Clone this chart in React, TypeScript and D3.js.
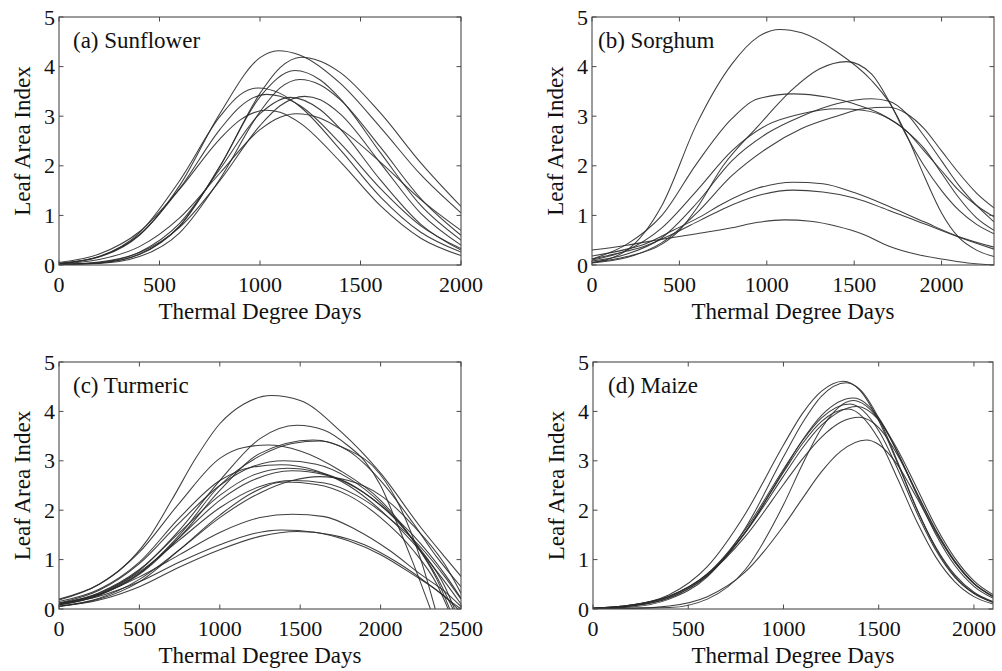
import React from "react";
import * as d3 from "d3";

type Pt = [number, number];

// ---------- tick values ----------
const yTickValues = [0, 1, 2, 3, 4, 5];
const xTicksSunflower = [0, 500, 1000, 1500, 2000];
const xTicksSorghum = [0, 500, 1000, 1500, 2000];
const xTicksTurmeric = [0, 500, 1000, 1500, 2000, 2500];
const xTicksMaize = [0, 500, 1000, 1500, 2000];

// ---------- (a) Sunflower ----------
const sunflower1: Pt[] = [[0,0.03],[200,0.16],[400,0.60],[600,1.60],[800,3.05],[1000,4.18],[1090,4.32],[1200,4.23],[1400,3.66],[1600,2.77],[1800,1.82],[2000,1.05]];
const sunflower2: Pt[] = [[0,0.01],[200,0.04],[400,0.22],[600,0.78],[800,1.98],[1000,3.46],[1100,3.98],[1204,4.19],[1300,4.11],[1400,3.88],[1600,3.06],[1800,2.06],[2000,1.18]];
const sunflower3: Pt[] = [[0,0.01],[200,0.04],[400,0.21],[600,0.79],[800,1.99],[1000,3.39],[1173,3.92],[1300,3.73],[1400,3.35],[1600,2.26],[1800,1.20],[2000,0.50]];
const sunflower4: Pt[] = [[0,0.01],[200,0.03],[400,0.17],[600,0.65],[800,1.73],[1000,3.09],[1100,3.57],[1198,3.74],[1300,3.63],[1400,3.33],[1600,2.37],[1800,1.34],[2000,0.60]];
const sunflower5: Pt[] = [[0,0.03],[200,0.17],[400,0.65],[600,1.70],[800,2.99],[900,3.43],[991,3.57],[1100,3.46],[1200,3.19],[1400,2.32],[1600,1.37],[1800,0.66],[2000,0.26]];
const sunflower6: Pt[] = [[0,0.03],[200,0.17],[400,0.61],[600,1.54],[800,2.73],[900,3.19],[1032,3.44],[1100,3.40],[1200,3.21],[1400,2.45],[1600,1.54],[1800,0.79],[2000,0.33]];
const sunflower7: Pt[] = [[0,0.01],[200,0.06],[400,0.25],[600,0.76],[800,1.70],[1000,2.81],[1100,3.21],[1223,3.40],[1300,3.33],[1400,3.04],[1600,2.05],[1800,1.04],[2000,0.40]];
const sunflower8: Pt[] = [[0,0.01],[200,0.05],[400,0.26],[600,0.84],[800,1.93],[1000,3.05],[1150,3.38],[1300,3.13],[1400,2.74],[1600,1.71],[1800,0.82],[2000,0.30]];
const sunflower9: Pt[] = [[0,0.05],[200,0.22],[400,0.67],[600,1.53],[800,2.54],[900,2.92],[1030,3.12],[1100,3.08],[1200,2.86],[1400,2.08],[1600,1.19],[1800,0.54],[2000,0.19]];
const sunflower10: Pt[] = [[0,0.02],[200,0.11],[400,0.37],[600,0.95],[800,1.85],[1000,2.73],[1100,2.98],[1180,3.05],[1300,2.96],[1400,2.74],[1600,2.07],[1800,1.32],[2000,0.70]];

// ---------- (b) Sorghum ----------
const sorghum1: Pt[] = [[0,0.05],[200,0.3],[400,1.2],[600,2.85],[800,4.05],[950,4.6],[1075,4.75],[1200,4.68],[1400,4.3],[1600,3.72],[1700,3.28],[1800,2.62],[1900,1.8],[2000,1.05],[2100,0.55],[2200,0.3],[2300,0.17]];
const sorghum2: Pt[] = [[0,0.05],[200,0.17],[400,0.42],[500,0.7],[600,1.15],[750,2.0],[950,2.8],[1150,3.55],[1300,3.95],[1457,4.1],[1600,3.85],[1700,3.3],[1800,2.6],[1900,2.0],[2000,1.5],[2100,1.1],[2200,0.82],[2300,0.63]];
const sorghum3: Pt[] = [[0,0.12],[200,0.42],[400,1.0],[600,2.05],[800,2.95],[950,3.35],[1150,3.45],[1350,3.38],[1500,3.25],[1650,3.05],[1800,2.7],[1900,2.35],[2000,1.85],[2100,1.35],[2200,0.95],[2300,0.7]];
const sorghum4: Pt[] = [[0,0.08],[200,0.22],[400,0.55],[600,1.25],[800,2.1],[1000,2.65],[1200,3.0],[1400,3.25],[1600,3.35],[1700,3.3],[1800,3.05],[1900,2.6],[2000,2.1],[2100,1.6],[2200,1.2],[2300,0.87]];
const sorghum5: Pt[] = [[0,0.04],[200,0.15],[400,0.45],[600,1.05],[800,1.8],[1000,2.35],[1200,2.75],[1400,3.0],[1550,3.15],[1700,3.18],[1800,3.05],[1900,2.75],[2000,2.3],[2100,1.85],[2200,1.45],[2300,1.15]];
const sorghum6: Pt[] = [[0,0.1],[200,0.3],[400,0.75],[600,1.5],[800,2.3],[1000,2.82],[1200,3.05],[1400,3.15],[1550,3.12],[1700,2.95],[1800,2.7],[1900,2.3],[2000,1.9],[2100,1.5],[2200,1.2],[2300,0.97]];
const sorghum7: Pt[] = [[0,0.18],[200,0.32],[300,0.42],[465,0.7],[618,0.97],[750,1.24],[950,1.55],[1150,1.67],[1320,1.64],[1500,1.46],[1700,1.18],[1900,0.87],[2100,0.57],[2300,0.36]];
const sorghum8: Pt[] = [[0,0.12],[200,0.28],[300,0.38],[465,0.63],[618,0.9],[750,1.13],[950,1.4],[1150,1.51],[1320,1.47],[1500,1.35],[1700,1.1],[1900,0.83],[2100,0.56],[2300,0.32]];
const sorghum9: Pt[] = [[0,0.3],[200,0.4],[400,0.52],[600,0.63],[800,0.75],[950,0.86],[1100,0.91],[1250,0.88],[1400,0.78],[1550,0.62],[1700,0.38],[1850,0.22],[2000,0.12],[2150,0.04],[2300,0.0]];

// ---------- (c) Turmeric ----------
const turmeric1: Pt[] = [[0,0.18],[250,0.5],[400,0.85],[550,1.4],[700,2.2],[850,3.05],[1000,3.75],[1150,4.15],[1320,4.32],[1500,4.22],[1750,3.6],[2000,2.75],[2250,1.65],[2400,1.05],[2500,0.66]];
const turmeric2: Pt[] = [[0,0.1],[250,0.32],[500,0.78],[750,1.6],[1000,2.6],[1250,3.45],[1480,3.72],[1650,3.62],[1800,3.3],[1900,3.0],[2000,2.5],[2100,1.75],[2200,0.95],[2310,0]];
const turmeric3: Pt[] = [[0,0.08],[250,0.28],[500,0.7],[750,1.45],[1000,2.4],[1250,3.15],[1580,3.42],[1800,3.22],[1950,2.9],[2100,2.2],[2250,1.0],[2340,0]];
const turmeric4: Pt[] = [[0,0.1],[250,0.3],[500,0.72],[750,1.5],[1000,2.5],[1250,3.1],[1450,3.35],[1620,3.4],[1800,3.2],[2000,2.6],[2200,1.75],[2350,1.05],[2500,0.45]];
const turmeric5: Pt[] = [[0,0.2],[250,0.5],[500,1.15],[750,2.15],[1000,3.05],[1150,3.27],[1300,3.32],[1500,3.2],[1750,2.8],[2000,2.2],[2200,1.4],[2350,0.6],[2430,0]];
const turmeric6: Pt[] = [[0,0.12],[250,0.38],[500,0.92],[750,1.75],[1000,2.5],[1200,2.88],[1400,3.0],[1600,2.93],[1800,2.65],[2000,2.15],[2200,1.4],[2350,0.65],[2450,0]];
const turmeric7: Pt[] = [[0,0.15],[250,0.4],[500,0.95],[750,1.85],[1000,2.6],[1200,2.87],[1380,2.92],[1600,2.8],[1800,2.5],[2000,2.0],[2200,1.35],[2400,0.55],[2500,0.1]];
const turmeric8: Pt[] = [[0,0.1],[250,0.33],[500,0.8],[750,1.55],[1000,2.3],[1200,2.7],[1420,2.85],[1600,2.78],[1800,2.55],[2000,2.1],[2200,1.5],[2400,0.7],[2500,0.22]];
const turmeric9: Pt[] = [[0,0.08],[250,0.28],[500,0.72],[750,1.45],[1000,2.2],[1200,2.6],[1450,2.8],[1650,2.72],[1850,2.45],[2050,1.95],[2250,1.2],[2400,0.45],[2460,0]];
const turmeric10: Pt[] = [[0,0.06],[250,0.22],[500,0.6],[750,1.2],[1000,1.85],[1250,2.35],[1450,2.6],[1620,2.68],[1800,2.6],[2000,2.3],[2200,1.7],[2400,0.9],[2500,0.32]];
const turmeric11: Pt[] = [[0,0.1],[250,0.3],[500,0.75],[750,1.4],[1000,2.05],[1250,2.48],[1450,2.6],[1650,2.55],[1850,2.3],[2050,1.85],[2250,1.25],[2400,0.65],[2500,0.2]];
const turmeric12: Pt[] = [[0,0.05],[250,0.2],[500,0.55],[750,1.2],[1000,1.9],[1200,2.35],[1400,2.57],[1600,2.52],[1800,2.3],[2000,1.85],[2200,1.2],[2350,0.5],[2420,0]];
const turmeric13: Pt[] = [[0,0.12],[250,0.3],[500,0.65],[750,1.1],[1000,1.55],[1250,1.85],[1450,1.92],[1650,1.87],[1850,1.6],[2050,1.2],[2250,0.7],[2400,0.35],[2500,0.05]];
const turmeric14: Pt[] = [[0,0.1],[250,0.26],[500,0.55],[750,0.95],[1000,1.3],[1200,1.52],[1380,1.6],[1600,1.55],[1800,1.38],[2000,1.1],[2200,0.7],[2400,0.25],[2480,0]];
const turmeric15: Pt[] = [[0,0.05],[250,0.18],[500,0.45],[750,0.85],[1000,1.2],[1250,1.47],[1480,1.57],[1700,1.5],[1900,1.3],[2100,0.95],[2300,0.5],[2450,0.12],[2500,0]];

// ---------- (d) Maize ----------
const maize1: Pt[] = [[0,0.02],[200,0.08],[400,0.29],[600,0.86],[800,1.93],[1000,3.32],[1100,3.96],[1200,4.41],[1315,4.61],[1400,4.43],[1500,3.81],[1600,2.94],[1700,2.02],[1800,1.25],[1900,0.69],[2000,0.34],[2100,0.15]];
const maize2: Pt[] = [[0,0.01],[200,0.04],[400,0.20],[600,0.65],[800,1.64],[1000,3.08],[1100,3.77],[1200,4.31],[1330,4.58],[1400,4.45],[1500,3.86],[1600,2.97],[1700,2.03],[1800,1.23],[1900,0.66],[2000,0.32],[2100,0.14]];
const maize3: Pt[] = [[0,0.01],[200,0.06],[400,0.23],[600,0.68],[800,1.56],[1000,2.80],[1100,3.42],[1200,3.92],[1367,4.27],[1500,3.87],[1600,3.16],[1700,2.31],[1800,1.51],[1900,0.88],[2000,0.46],[2100,0.22]];
const maize4: Pt[] = [[0,0.01],[200,0.02],[400,0.03],[600,0.20],[800,0.80],[1000,2.11],[1100,2.93],[1200,3.66],[1365,4.22],[1500,3.84],[1600,3.16],[1700,2.35],[1800,1.58],[1900,0.95],[2000,0.52],[2100,0.25]];
const maize5: Pt[] = [[0,0.01],[200,0.07],[400,0.25],[600,0.71],[800,1.61],[1000,2.83],[1100,3.41],[1200,3.87],[1350,4.15],[1500,3.61],[1600,2.83],[1700,1.95],[1800,1.19],[1900,0.64],[2000,0.31],[2100,0.13]];
const maize6: Pt[] = [[0,0.02],[200,0.08],[400,0.26],[600,0.71],[800,1.55],[1000,2.69],[1100,3.26],[1200,3.72],[1385,4.10],[1500,3.83],[1600,3.22],[1700,2.45],[1800,1.67],[1900,1.03],[2000,0.57],[2100,0.29]];
const maize7: Pt[] = [[0,0.01],[200,0.06],[400,0.22],[600,0.67],[800,1.55],[1000,2.77],[1100,3.35],[1200,3.80],[1340,4.05],[1500,3.44],[1600,2.63],[1700,1.77],[1800,1.05],[1900,0.55],[2000,0.25],[2100,0.10]];
const maize8: Pt[] = [[0,0.02],[200,0.08],[400,0.26],[600,0.69],[800,1.47],[1000,2.52],[1100,3.04],[1200,3.48],[1300,3.78],[1400,3.88],[1500,3.67],[1600,3.11],[1700,2.35],[1800,1.60],[1900,0.97],[2000,0.52],[2100,0.26]];
const maize9: Pt[] = [[0,0.01],[200,0.01],[400,0.06],[600,0.25],[800,0.75],[1000,1.68],[1100,2.24],[1200,2.78],[1300,3.19],[1435,3.42],[1500,3.33],[1600,2.91],[1700,2.25],[1800,1.55],[1900,0.95],[2000,0.51],[2100,0.25]];

const sunflowerCurves = [sunflower1, sunflower2, sunflower3, sunflower4, sunflower5, sunflower6, sunflower7, sunflower8, sunflower9, sunflower10];
const sorghumCurves = [sorghum1, sorghum2, sorghum3, sorghum4, sorghum5, sorghum6, sorghum7, sorghum8, sorghum9];
const turmericCurves = [turmeric1, turmeric2, turmeric3, turmeric4, turmeric5, turmeric6, turmeric7, turmeric8, turmeric9, turmeric10, turmeric11, turmeric12, turmeric13, turmeric14, turmeric15];
const maizeCurves = [maize1, maize2, maize3, maize4, maize5, maize6, maize7, maize8, maize9];

const panelTitles = ["(a) Sunflower", "(b) Sorghum", "(c) Turmeric", "(d) Maize"];
const xMaxes = [2000, 2300, 2500, 2100];
const xLabel = "Thermal Degree Days";
const yLabel = "Leaf Area Index";

const FONT = "'Liberation Serif', 'Times New Roman', Times, serif";

type Layout = { left: number; right: number; top: number; bottom: number; titleDx: number };

const layouts: Layout[] = [
  { left: 59, right: 461, top: 17, bottom: 265, titleDx: 14 },
  { left: 592, right: 994, top: 17, bottom: 265, titleDx: 6 },
  { left: 59, right: 461, top: 362, bottom: 609, titleDx: 14 },
  { left: 593, right: 993, top: 362, bottom: 609, titleDx: 15 },
];

function Panel(props: { idx: number; curves: Pt[][]; xTicks: number[] }) {
  const { idx, curves, xTicks } = props;
  const L = layouts[idx];
  const x = d3.scaleLinear().domain([0, xMaxes[idx]]).range([L.left, L.right]);
  const y = d3.scaleLinear().domain([0, 5]).range([L.bottom, L.top]);
  const line = d3
    .line<Pt>()
    .x((d) => x(d[0]))
    .y((d) => y(d[1]))
    .curve(d3.curveMonotoneX);
  const clipId = `clip-panel-${idx}`;
  const tick = 4.5;
  const axisColor = "#4a4a4a";
  return (
    <g>
      <defs>
        <clipPath id={clipId}>
          <rect x={L.left} y={L.top} width={L.right - L.left} height={L.bottom - L.top} />
        </clipPath>
      </defs>
      <g clipPath={`url(#${clipId})`}>
        {curves.map((c, i) => (
          <path key={i} d={line(c) || ""} fill="none" stroke="#2a2a2a" strokeWidth={1.05} strokeOpacity={0.9} />
        ))}
      </g>
      <rect
        x={L.left}
        y={L.top}
        width={L.right - L.left}
        height={L.bottom - L.top}
        fill="none"
        stroke={axisColor}
        strokeWidth={1.1}
      />
      {xTicks.map((t) => (
        <g key={`xt${t}`}>
          <line x1={x(t)} x2={x(t)} y1={L.bottom} y2={L.bottom - tick} stroke={axisColor} />
          <line x1={x(t)} x2={x(t)} y1={L.top} y2={L.top + tick} stroke={axisColor} />
          <text x={x(t)} y={L.bottom + 27} textAnchor="middle" fontFamily={FONT} fontSize={22} fill="#111">
            {t}
          </text>
        </g>
      ))}
      {yTickValues.map((t) => (
        <g key={`yt${t}`}>
          <line x1={L.left} x2={L.left + tick} y1={y(t)} y2={y(t)} stroke={axisColor} />
          <line x1={L.right} x2={L.right - tick} y1={y(t)} y2={y(t)} stroke={axisColor} />
          <text x={L.left - 4} y={y(t) + 7.5} textAnchor="end" fontFamily={FONT} fontSize={22} fill="#111">
            {t}
          </text>
        </g>
      ))}
      <text
        x={(L.left + L.right) / 2}
        y={L.bottom + 53.5}
        textAnchor="middle"
        fontFamily={FONT}
        fontSize={23}
        fill="#111"
      >
        {xLabel}
      </text>
      <text
        transform={`translate(${L.left - 29},${(L.top + L.bottom) / 2}) rotate(-90)`}
        textAnchor="middle"
        fontFamily={FONT}
        fontSize={23}
        fill="#111"
      >
        {yLabel}
      </text>
      <text x={L.left + L.titleDx} y={L.top + 31} fontFamily={FONT} fontSize={23} fill="#111">
        {panelTitles[idx]}
      </text>
    </g>
  );
}

export default function App() {
  return (
    <svg
      width={1002}
      height={671}
      viewBox="0 0 1002 671"
      style={{ position: "absolute", left: 0, top: 0, background: "#fff" }}
    >
      <rect x={0} y={0} width={1002} height={671} fill="#fff" />
      <Panel idx={0} curves={sunflowerCurves} xTicks={xTicksSunflower} />
      <Panel idx={1} curves={sorghumCurves} xTicks={xTicksSorghum} />
      <Panel idx={2} curves={turmericCurves} xTicks={xTicksTurmeric} />
      <Panel idx={3} curves={maizeCurves} xTicks={xTicksMaize} />
    </svg>
  );
}
